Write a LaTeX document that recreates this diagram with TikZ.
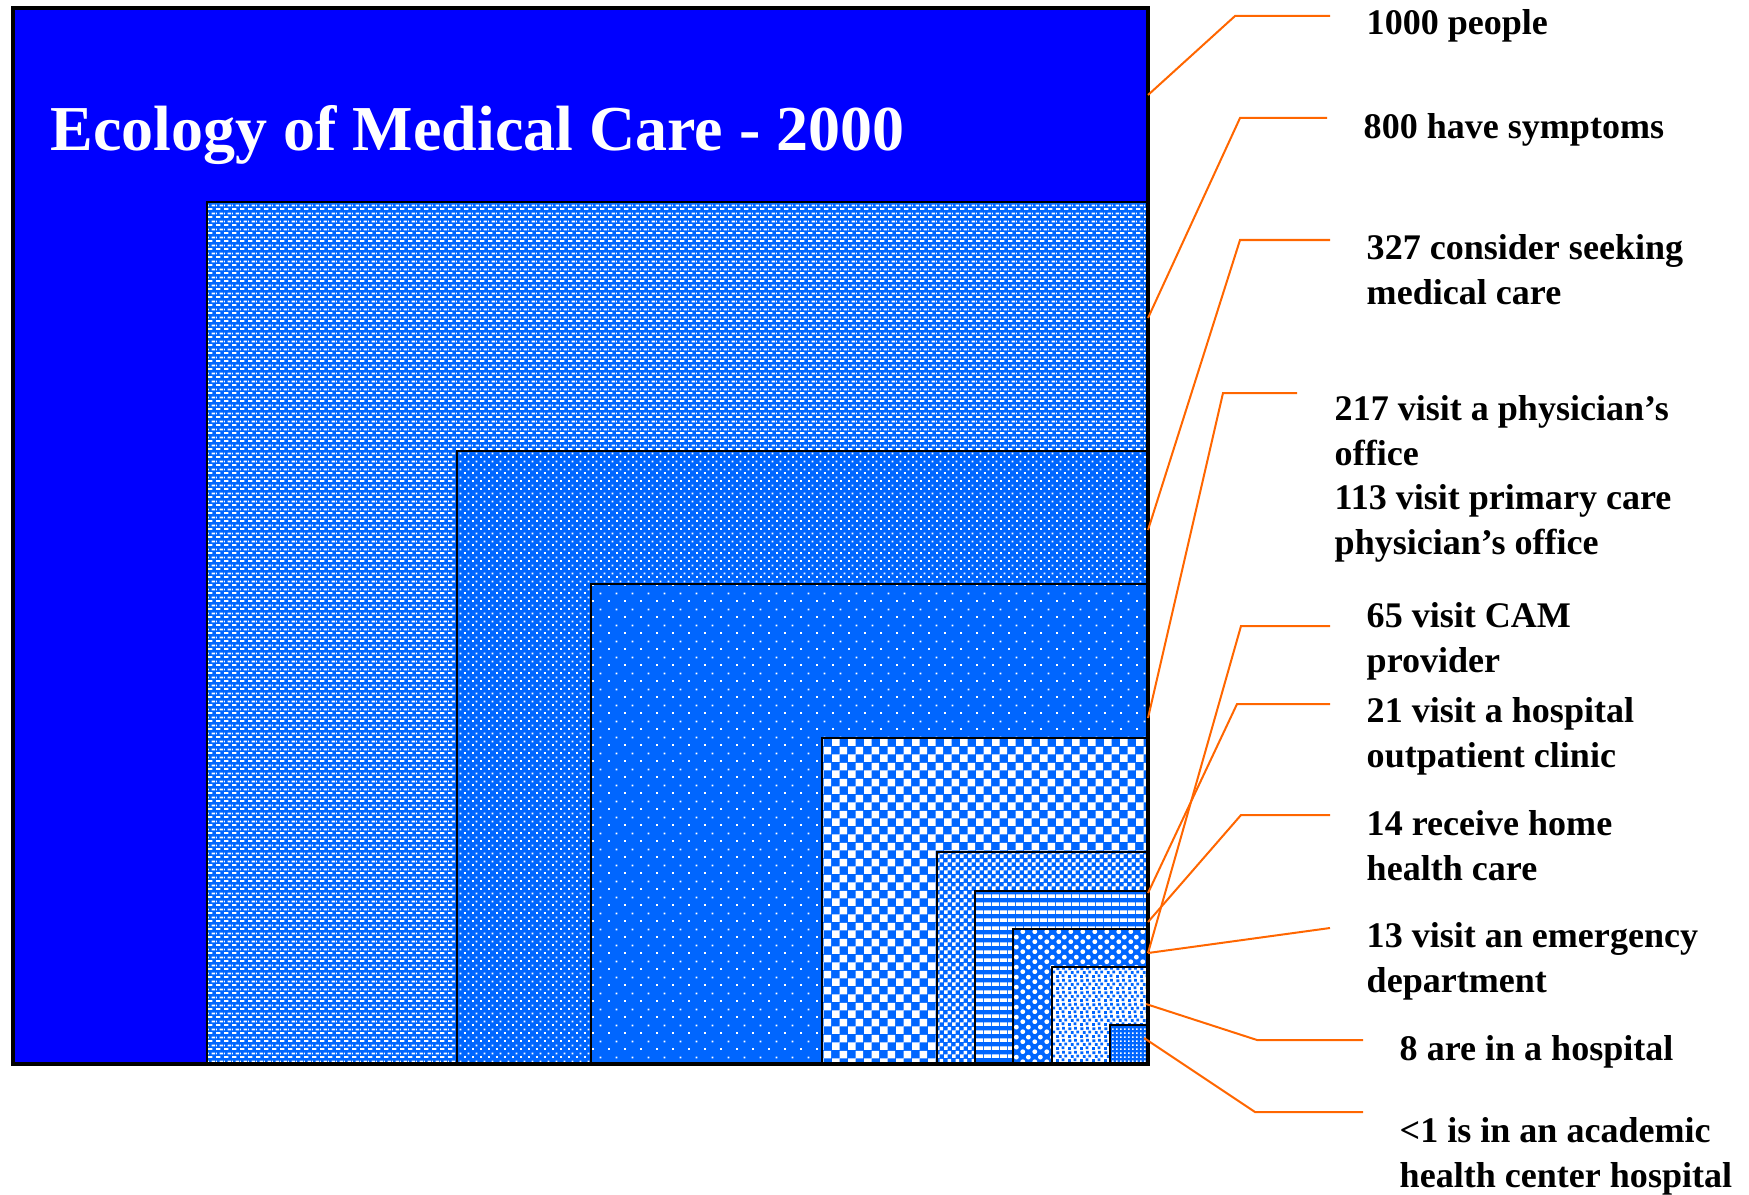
\documentclass[tikz,border=0pt]{standalone}
\usepackage{fontspec}
\setmainfont{Liberation Serif}
\usetikzlibrary{patterns}

% --- Colori ---
\definecolor{blu}{RGB}{0,0,255}
\definecolor{azzurro}{RGB}{0,102,255}
\definecolor{arancio}{RGB}{255,102,0}

% --- Motivi di riempimento (misure in pixel dell'immagine) ---
\newdimen\pxunit
\pxunit=0.28453pt
% trattini orizzontali sfalsati
\pgfdeclarepatternformonly{trattini}{\pgfpointorigin}{\pgfpoint{8\pxunit}{8\pxunit}}{\pgfpoint{8\pxunit}{8\pxunit}}{%
  \pgfpathrectangle{\pgfpoint{0\pxunit}{0\pxunit}}{\pgfpoint{5\pxunit}{2\pxunit}}%
  \pgfpathrectangle{\pgfpoint{4\pxunit}{4\pxunit}}{\pgfpoint{4\pxunit}{2\pxunit}}%
  \pgfpathrectangle{\pgfpoint{0\pxunit}{4\pxunit}}{\pgfpoint{1\pxunit}{2\pxunit}}%
  \pgfusepath{fill}}
% puntini fitti
\pgfdeclarepatternformonly{puntinifitti}{\pgfpointorigin}{\pgfpoint{8\pxunit}{8\pxunit}}{\pgfpoint{8\pxunit}{8\pxunit}}{%
  \pgfpathrectangle{\pgfpoint{0\pxunit}{0\pxunit}}{\pgfpoint{2\pxunit}{2\pxunit}}%
  \pgfpathrectangle{\pgfpoint{4\pxunit}{4\pxunit}}{\pgfpoint{2\pxunit}{2\pxunit}}%
  \pgfusepath{fill}}
% puntini radi
\pgfdeclarepatternformonly{puntiniradi}{\pgfpointorigin}{\pgfpoint{16\pxunit}{16\pxunit}}{\pgfpoint{16\pxunit}{16\pxunit}}{%
  \pgfpathrectangle{\pgfpoint{0\pxunit}{0\pxunit}}{\pgfpoint{2\pxunit}{2\pxunit}}%
  \pgfpathrectangle{\pgfpoint{8\pxunit}{8\pxunit}}{\pgfpoint{2\pxunit}{2\pxunit}}%
  \pgfusepath{fill}}
% scacchiera grande
\pgfdeclarepatternformonly{scacchi}{\pgfpointorigin}{\pgfpoint{16\pxunit}{16\pxunit}}{\pgfpoint{16\pxunit}{16\pxunit}}{%
  \pgfpathrectangle{\pgfpoint{0\pxunit}{0\pxunit}}{\pgfpoint{8\pxunit}{8\pxunit}}%
  \pgfpathrectangle{\pgfpoint{8\pxunit}{8\pxunit}}{\pgfpoint{8\pxunit}{8\pxunit}}%
  \pgfusepath{fill}}
% scacchiera piccola
\pgfdeclarepatternformonly{scacchini}{\pgfpointorigin}{\pgfpoint{8\pxunit}{8\pxunit}}{\pgfpoint{8\pxunit}{8\pxunit}}{%
  \pgfpathrectangle{\pgfpoint{0\pxunit}{0\pxunit}}{\pgfpoint{4\pxunit}{4\pxunit}}%
  \pgfpathrectangle{\pgfpoint{4\pxunit}{4\pxunit}}{\pgfpoint{4\pxunit}{4\pxunit}}%
  \pgfusepath{fill}}
% righe orizzontali
\pgfdeclarepatternformonly{righe}{\pgfpointorigin}{\pgfpoint{8\pxunit}{8\pxunit}}{\pgfpoint{8\pxunit}{8\pxunit}}{%
  \pgfpathrectangle{\pgfpoint{0\pxunit}{0\pxunit}}{\pgfpoint{8\pxunit}{4\pxunit}}%
  \pgfusepath{fill}}
% sfere sfalsate
\pgfdeclarepatternformonly{sfere}{\pgfpointorigin}{\pgfpoint{12\pxunit}{10\pxunit}}{\pgfpoint{12\pxunit}{10\pxunit}}{%
  \pgfpathcircle{\pgfpoint{3\pxunit}{2.5\pxunit}}{2.6\pxunit}%
  \pgfpathcircle{\pgfpoint{9\pxunit}{7.5\pxunit}}{2.6\pxunit}%
  \pgfusepath{fill}}
% coriandoli (quadratini sparsi)
\pgfdeclarepatternformonly{coriandoli}{\pgfpointorigin}{\pgfpoint{12\pxunit}{12\pxunit}}{\pgfpoint{12\pxunit}{12\pxunit}}{%
  \pgfpathrectangle{\pgfpoint{0\pxunit}{0\pxunit}}{\pgfpoint{3\pxunit}{3\pxunit}}%
  \pgfpathrectangle{\pgfpoint{6\pxunit}{1\pxunit}}{\pgfpoint{3\pxunit}{3\pxunit}}%
  \pgfpathrectangle{\pgfpoint{3\pxunit}{4.5\pxunit}}{\pgfpoint{3\pxunit}{3\pxunit}}%
  \pgfpathrectangle{\pgfpoint{9\pxunit}{5\pxunit}}{\pgfpoint{3\pxunit}{3\pxunit}}%
  \pgfpathrectangle{\pgfpoint{0.5\pxunit}{8.5\pxunit}}{\pgfpoint{3\pxunit}{3\pxunit}}%
  \pgfpathrectangle{\pgfpoint{6.5\pxunit}{9\pxunit}}{\pgfpoint{3\pxunit}{3\pxunit}}%
  \pgfusepath{fill}}
% griglia di puntini
\pgfdeclarepatternformonly{griglia}{\pgfpointorigin}{\pgfpoint{4\pxunit}{4\pxunit}}{\pgfpoint{4\pxunit}{4\pxunit}}{%
  \pgfpathrectangle{\pgfpoint{0\pxunit}{0\pxunit}}{\pgfpoint{2\pxunit}{2\pxunit}}%
  \pgfusepath{fill}}

\begin{document}
\begin{tikzpicture}[x=0.01cm, y=-0.01cm,
    riquadro/.style={fill=azzurro, postaction={pattern=#1, pattern color=white}},
    bordo/.style={draw=black, line width=0.02cm},
    guida/.style={draw=arancio, line width=0.02cm},
    etichetta/.style={anchor=north west, inner sep=0pt, align=left,
      font=\bfseries\fontsize{10.25}{12.66}\selectfont}]
    % --- Impostazioni ---
    \def\destra{1148} % lato destro comune dei riquadri
    \def\fondo{1064}  % lato inferiore comune dei riquadri
    \useasboundingbox (0,0) rectangle (1749,1194);

    % --- Riquadri annidati ---
    % Riquadro esterno (tutta la popolazione)
    \fill[blu] (13,8) rectangle (\destra,\fondo);
    % Ogni riquadro: riempimento, poi bordo in alto e a sinistra
    \path[riquadro=trattini] (207,202) rectangle (\destra,\fondo);
    \draw[bordo] (207,\fondo) |- (\destra,202);
    \path[riquadro=puntinifitti] (457,451) rectangle (\destra,\fondo);
    \draw[bordo] (457,\fondo) |- (\destra,451);
    \path[riquadro=puntiniradi] (591,584) rectangle (\destra,\fondo);
    \draw[bordo] (591,\fondo) |- (\destra,584);
    \path[riquadro=scacchi] (822,738) rectangle (\destra,\fondo);
    \draw[bordo] (822,\fondo) |- (\destra,738);
    \path[riquadro=scacchini] (937,852) rectangle (\destra,\fondo);
    \draw[bordo] (937,\fondo) |- (\destra,852);
    \path[riquadro=righe] (975,891) rectangle (\destra,\fondo);
    \draw[bordo] (975,\fondo) |- (\destra,891);
    \path[riquadro=sfere] (1013,929) rectangle (\destra,\fondo);
    \draw[bordo] (1013,\fondo) |- (\destra,929);
    % questo e' bianco con quadratini azzurri
    \path[fill=white, postaction={pattern=coriandoli, pattern color=azzurro}] (1052,967) rectangle (\destra,\fondo);
    \draw[bordo] (1052,\fondo) |- (\destra,967);
    \path[riquadro=griglia] (1110,1025) rectangle (\destra,\fondo);
    \draw[bordo] (1110,\fondo) |- (\destra,1025);
    % Cornice esterna
    \draw[line width=0.04cm] (13,8) rectangle (\destra,\fondo);

    % --- Titolo ---
    \node[anchor=base west, inner sep=0pt, text=white,
      font=\bfseries\fontsize{18.2}{22}\selectfont] (titolo) at (50,150) {Ecology of Medical Care - 2000};

    % --- Punti di arrivo sul lato destro ---
    \coordinate (f1) at (\destra,95);
    \coordinate (f2) at (\destra,318);
    \coordinate (f3) at (\destra,530);
    \coordinate (f4) at (\destra,718);
    \coordinate (f5) at (\destra,953);
    \coordinate (f6) at (\destra,893);
    \coordinate (f7) at (\destra,922);
    \coordinate (f8) at (\destra,953);
    \coordinate (f9) at (1146,1004);
    \coordinate (f10) at (1144,1038);

    % --- Etichette ---
    \node[etichetta] (t1) at (1366,9) {1000 people};
    \node[etichetta] (t2) at (1363,113) {800 have symptoms};
    \node[etichetta] (t3) at (1366,234) {327 consider seeking\\medical care};
    \node[etichetta] (t4) at (1334,395) {217 visit a physician’s\\office\\113 visit primary care\\physician’s office};
    \node[etichetta] (t5) at (1366,602) {65 visit CAM\\provider};
    \node[etichetta] (t6) at (1366,697) {21 visit a hospital\\outpatient clinic};
    \node[etichetta] (t7) at (1366,810) {14 receive home\\health care};
    \node[etichetta] (t8) at (1366,922) {13 visit an emergency\\department};
    \node[etichetta] (t9) at (1399,1035) {8 are in a hospital};
    \node[etichetta] (t10) at (1399,1117) {<1 is in an academic\\health center hospital};

    % --- Linee di richiamo ---
    \draw[guida] ([shift={(-36,7)}]t1.north west) -- ++(-95,0) -- (f1);
    \draw[guida] ([shift={(-36,5)}]t2.north west) -- ++(-87,0) -- (f2);
    \draw[guida] ([shift={(-36,6)}]t3.north west) -- ++(-90,0) -- (f3);
    \draw[guida] ([shift={(-37,-2)}]t4.north west) -- ++(-74,0) -- (f4);
    \draw[guida] ([shift={(-36,24)}]t5.north west) -- ++(-89,0) -- (f5);
    \draw[guida] ([shift={(-36,7)}]t6.north west) -- ++(-93,0) -- (f6);
    \draw[guida] ([shift={(-36,5)}]t7.north west) -- ++(-89,0) -- (f7);
    \draw[guida] ([shift={(-36,6)}]t8.north west) -- (f8);
    \draw[guida] ([shift={(-36,5)}]t9.north west) -- ++(-106,0) -- (f9);
    \draw[guida] ([shift={(-36,-5)}]t10.north west) -- ++(-108,0) -- (f10);
\end{tikzpicture}
\end{document}
